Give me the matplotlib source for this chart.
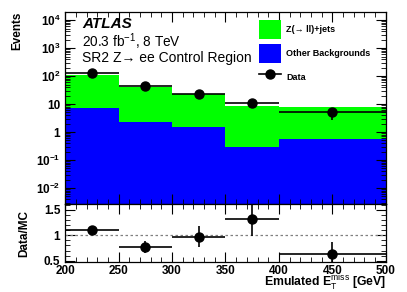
import numpy as np
import matplotlib
matplotlib.use('Agg')
import matplotlib.pyplot as plt
from matplotlib.patches import Patch
from matplotlib.lines import Line2D
from matplotlib.ticker import FixedLocator, FixedFormatter, MultipleLocator, LogLocator, NullFormatter

plt.rcParams['font.family'] = ['Liberation Sans', 'DejaVu Sans']
plt.rcParams['mathtext.fontset'] = 'custom'
plt.rcParams['mathtext.rm'] = 'Liberation Sans'
plt.rcParams['mathtext.bf'] = 'Liberation Sans:bold'
plt.rcParams['mathtext.it'] = 'Liberation Sans:italic'

# bins in emulated MET [GeV]
bin_edges = [200, 250, 300, 350, 400, 500]
bin_centers = [225, 275, 325, 375, 450]

# backgrounds (stacked)
other_bkg = [7.2, 2.3, 1.5, 0.30, 0.56]
zjets = [102.8, 37.7, 22.0, 8.2, 7.44]

# data
data = [125, 44, 23, 11, 5]
data_err = [11.2, 6.6, 4.8, 3.3, 2.2]

# ratio panel
ratio = [1.10, 0.77, 0.97, 1.32, 0.64]
ratio_err = [0.08, 0.11, 0.21, 0.34, 0.22]

green = '#00ff00'
blue = '#0000ff'

fig = plt.figure(figsize=(4.07, 2.92), dpi=100)
ax = fig.add_axes([0.160, 0.300, 0.788, 0.660])
axr = fig.add_axes([0.160, 0.103, 0.788, 0.197], sharex=ax)

edges = np.array(bin_edges, dtype=float)
total = np.array(other_bkg) + np.array(zjets)
xerr = np.diff(edges) / 2

# stacked histogram
ax.stairs(total, edges, fill=True, color=green, baseline=1e-5)
ax.stairs(other_bkg, edges, fill=True, color=blue, baseline=1e-5)
ax.errorbar(bin_centers, data, xerr=xerr, yerr=data_err, fmt='o', color='black',
            markersize=6.5, elinewidth=1.2, capsize=0)

ax.set_yscale('log')
ax.set_ylim(2.6e-3, 2e4)
ax.set_xlim(200, 500)

dec = [1e-2, 1e-1, 1, 10, 1e2, 1e3, 1e4]
dec_lbl = ['$\\mathbf{10^{-2}}$', '$\\mathbf{10^{-1}}$', '1', '10',
           '$\\mathbf{10^{2}}$', '$\\mathbf{10^{3}}$', '$\\mathbf{10^{4}}$']
ax.yaxis.set_major_locator(FixedLocator(dec))
ax.yaxis.set_major_formatter(FixedFormatter(dec_lbl))
ax.yaxis.set_minor_locator(LogLocator(base=10, subs=np.arange(2, 10), numticks=20))
ax.yaxis.set_minor_formatter(NullFormatter())
ax.xaxis.set_major_locator(MultipleLocator(50))
ax.xaxis.set_minor_locator(MultipleLocator(10))
plt.setp(ax.get_xticklabels(), visible=False)

for a in (ax, axr):
    a.tick_params(which='both', direction='in', top=True, right=True, labelsize=8.5)
    a.tick_params(which='major', length=7, width=0.8)
    a.tick_params(which='minor', length=3.5, width=0.6)
    for s in a.spines.values():
        s.set_linewidth(0.9)

ax.set_ylabel('Events', fontsize=8.5, fontweight='bold', loc='top', labelpad=9)

# labels
ax.text(0.053, 0.936, 'ATLAS', transform=ax.transAxes, fontsize=11,
        fontweight='bold', style='italic', va='center')
ax.text(0.053, 0.845, '20.3 fb$^{-1}$, 8 TeV', transform=ax.transAxes,
        fontsize=9.8, va='center')
ax.text(0.053, 0.762, 'SR2 Z\u2192 ee Control Region', transform=ax.transAxes,
        fontsize=10, va='center')

handles = [Patch(facecolor=green, edgecolor='none'),
           Patch(facecolor=blue, edgecolor='none'),
           Line2D([], [], color='black', marker='o', markersize=6.5, lw=1.2)]
labels = ['Z(\u2192 ll)+jets', 'Other Backgrounds', 'Data']
leg = ax.legend(handles, labels, loc='upper left', bbox_to_anchor=(0.593, 0.974),
                frameon=False, fontsize=6.5, handlelength=2.5, handleheight=2.8,
                labelspacing=0.55, handletextpad=0.5, borderaxespad=0)
for t in leg.get_texts():
    t.set_fontweight('bold')

# ratio panel
axr.axhline(1.0, color='gray', lw=0.9, ls=(0, (2, 2)))
axr.errorbar(bin_centers, ratio, xerr=xerr, yerr=ratio_err, fmt='o', color='black',
             markersize=6.5, elinewidth=1.2, capsize=0)
axr.set_ylim(0.475, 1.61)
axr.yaxis.set_major_locator(FixedLocator([0.5, 1.0, 1.5]))
axr.yaxis.set_major_formatter(FixedFormatter(['0.5', '1', '1.5']))
axr.yaxis.set_minor_locator(MultipleLocator(0.1))
axr.tick_params(axis='x', which='major', pad=2.5)
for a in (ax, axr):
    for lbl in a.get_xticklabels() + a.get_yticklabels():
        lbl.set_fontweight('bold')
axr.set_ylabel('Data/MC', fontsize=8.5, fontweight='bold', labelpad=10)
axr.set_xlabel('Emulated E$_{\\mathrm{T}}^{\\mathrm{miss}}$ [GeV]', fontsize=8.8,
               fontweight='bold', loc='right', labelpad=-3)

fig.savefig('out.png', dpi=100)
